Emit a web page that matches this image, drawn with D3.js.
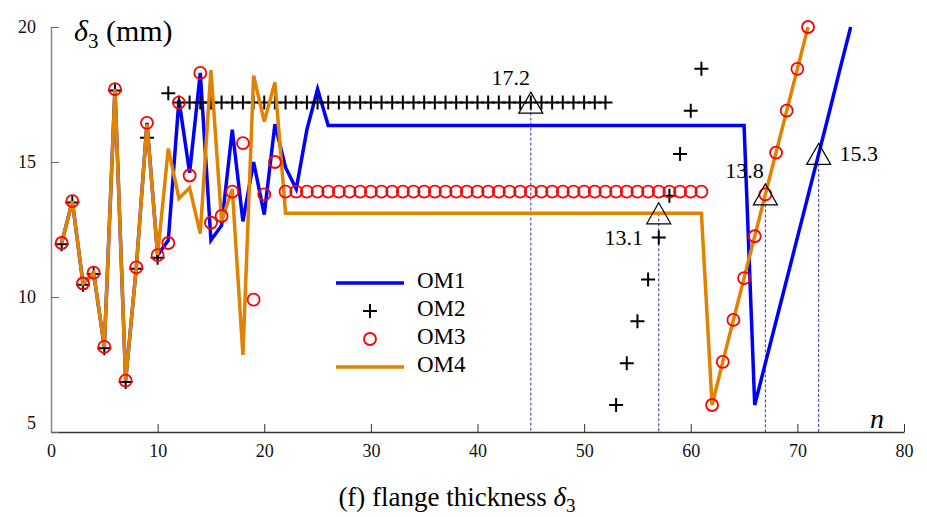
<!DOCTYPE html>
<html>
<head>
<meta charset="utf-8">
<script src="https://cdn.jsdelivr.net/npm/d3@7"></script>
<style>
  body { margin: 0; background: #fff; }
  svg, svg text { font-family: "Liberation Serif", "Times New Roman", serif; }
</style>
</head>
<body>
<svg id="chart" width="927" height="517"></svg>
<script>
// x ticks / y ticks
const xTicks = [0, 10, 20, 30, 40, 50, 60, 70, 80];
const yTicks = [5, 10, 15, 20];

// OM1 line vertices [n, value]
const om1 = [
  [1, 12.0], [2, 13.55], [3, 10.5], [4, 10.9], [5, 8.15], [6, 17.7], [7, 6.9], [8, 11.1],
  [9, 16.45], [10, 11.55], [11, 12.1], [12, 17.3], [13, 14.6], [14, 18.3], [15, 12.1],
  [16, 12.65], [17, 16.2], [18, 12.8], [19, 15.0], [20, 13.05], [21, 16.4], [22, 14.8],
  [23, 14.0], [24, 16.2], [25, 17.7], [26, 16.35], [65, 16.35], [66, 6.0], [67, 7.55],
  [68, 9.1], [69, 10.65], [70, 12.2], [71, 13.75], [72, 15.3], [73, 16.85], [74, 18.45], [75, 20.0]
];

// OM2 markers, n = 1, 2, 3, ...
const om2 = [
  11.95, 13.5, 10.45, 10.85, 8.1, 17.65, 6.85, 11.05, 15.9, 11.45,
  17.55, 17.2, 17.2, 17.2, 17.2, 17.2, 17.2, 17.2, 17.2, 17.2,
  17.2, 17.2, 17.2, 17.2, 17.2, 17.2, 17.2, 17.2, 17.2, 17.2,
  17.2, 17.2, 17.2, 17.2, 17.2, 17.2, 17.2, 17.2, 17.2, 17.2,
  17.2, 17.2, 17.2, 17.2, 17.2, 17.2, 17.2, 17.2, 17.2, 17.2,
  17.2, 17.2, 6.0, 7.55, 9.1, 10.65, 12.2, 13.75, 15.3, 16.9,
  18.45
];

// OM3 markers, n = 1, 2, 3, ...
const om3 = [
  12.0, 13.55, 10.5, 10.9, 8.15, 17.7, 6.9, 11.1, 16.45, 11.55,
  12.0, 17.2, 14.5, 18.3, 12.75, 13.0, 13.9, 15.7, 9.9, 13.8,
  15.0, 13.9, 13.9, 13.9, 13.9, 13.9, 13.9, 13.9, 13.9, 13.9,
  13.9, 13.9, 13.9, 13.9, 13.9, 13.9, 13.9, 13.9, 13.9, 13.9,
  13.9, 13.9, 13.9, 13.9, 13.9, 13.9, 13.9, 13.9, 13.9, 13.9,
  13.9, 13.9, 13.9, 13.9, 13.9, 13.9, 13.9, 13.9, 13.9, 13.9,
  13.9, 6.0, 7.6, 9.15, 10.7, 12.25, 13.8, 15.35, 16.9, 18.45,
  20.0
];

// OM4 line vertices [n, value]
const om4 = [
  [1, 12.0], [2, 13.55], [3, 10.5], [4, 10.9], [5, 8.15], [6, 17.7], [7, 6.9], [8, 11.1],
  [9, 16.4], [10, 11.55], [11, 15.5], [12, 13.65], [13, 14.05], [14, 12.35], [15, 18.4],
  [16, 12.8], [17, 14.0], [18, 7.85], [19, 18.2], [20, 16.5], [21, 17.95], [22, 13.1],
  [61, 13.1], [62, 6.0], [63, 7.6], [64, 9.15], [65, 10.7], [66, 12.25], [67, 13.8],
  [68, 15.35], [69, 16.9], [70, 18.45], [71, 20.0]
];

// marked points
const markN = [45, 57, 67, 72];
const markV = [17.2, 13.1, 13.8, 15.3];
const markLabels = ["17.2", "13.1", "13.8", "15.3"];

const svg = d3.select("#chart");
const x = d3.scaleLinear().domain([0, 80]).range([51, 904]);
const y = d3.scaleLinear().domain([5, 20]).range([432, 27]);

// axes
const xAxis = svg.append("g")
  .attr("transform", "translate(0," + y(5) + ")")
  .call(d3.axisBottom(x).tickValues(xTicks).tickSizeInner(-8).tickSizeOuter(0).tickPadding(12))
  .attr("font-family", null).attr("font-size", 18);
xAxis.select(".domain").attr("stroke", "#333").attr("stroke-width", 1.5);
xAxis.selectAll(".tick line").attr("stroke", "#333").attr("stroke-width", 1);
xAxis.selectAll(".tick text").attr("fill", "#111");

const yAxis = svg.append("g")
  .attr("transform", "translate(" + x(0) + ",0)")
  .call(d3.axisLeft(y).tickValues(yTicks).tickSizeInner(-8).tickSizeOuter(0).tickPadding(15))
  .attr("font-family", null).attr("font-size", 18);
yAxis.select(".domain").attr("stroke", "#888").attr("stroke-width", 1.5);
yAxis.selectAll(".tick line").attr("stroke", "#666").attr("stroke-width", 1);
yAxis.selectAll(".tick text").attr("fill", "#111")
  .attr("dy", d => d === 5 ? "-0.2em" : "0.32em");

// dashed guides (drawn under series)
const marks = markN.map((n, i) => ({ n: n, v: markV[i], label: markLabels[i] }));
svg.append("g").selectAll("line").data(marks).join("line")
  .attr("x1", d => x(d.n)).attr("x2", d => x(d.n))
  .attr("y1", d => y(d.v)).attr("y2", y(5))
  .attr("stroke", "#2233aa").attr("stroke-width", 1).attr("stroke-dasharray", "3,2");

// series
const line = d3.line().x(d => x(d[0])).y(d => y(d[1]));

svg.append("path").datum(om1).attr("d", line)
  .attr("fill", "none").attr("stroke", "#0000ff").attr("stroke-width", 3.5).attr("stroke-linejoin", "miter");

svg.append("g").selectAll("path").data(om2).join("path")
  .attr("d", "M-7,0H7M0,-7V7")
  .attr("transform", (d, i) => "translate(" + x(i + 1) + "," + y(d) + ")")
  .attr("stroke", "#000").attr("stroke-width", 2).attr("fill", "none");

svg.append("path").datum(om4).attr("d", line)
  .attr("fill", "none").attr("stroke", "#df8300").attr("stroke-width", 3.5).attr("stroke-linejoin", "miter");

svg.append("g").selectAll("circle").data(om3).join("circle")
  .attr("cx", (d, i) => x(i + 1)).attr("cy", d => y(d)).attr("r", 6)
  .attr("fill", "none").attr("stroke", "#ff0000").attr("stroke-width", 1.8);

// triangles and labels
const tri = svg.append("g");
tri.selectAll("path").data(marks).join("path")
  .attr("d", "M0,-10.5L12,10.5L-12,10.5Z")
  .attr("transform", d => "translate(" + x(d.n) + "," + y(d.v) + ")")
  .attr("fill", "none").attr("stroke", "#000").attr("stroke-width", 1.2);
const labelOff = [[-20, -23], [-35, 27], [-21, -21], [40, 2]];
tri.selectAll("text").data(marks).join("text")
  .attr("x", (d, i) => x(d.n) + labelOff[i][0])
  .attr("y", (d, i) => y(d.v) + labelOff[i][1])
  .attr("text-anchor", "middle").attr("dominant-baseline", "middle")
  .attr("font-size", 22).attr("fill", "#000")
  .text(d => d.label);

// legend
const legend = svg.append("g");
const legY = [283, 311, 339, 367];
legend.append("line").attr("x1", 336).attr("x2", 404).attr("y1", legY[0]).attr("y2", legY[0])
  .attr("stroke", "#0000ff").attr("stroke-width", 3.5);
legend.append("path").attr("d", "M-7,0H7M0,-7V7")
  .attr("transform", "translate(370," + legY[1] + ")")
  .attr("stroke", "#000").attr("stroke-width", 2);
legend.append("circle").attr("cx", 370).attr("cy", legY[2]).attr("r", 6)
  .attr("fill", "none").attr("stroke", "#ff0000").attr("stroke-width", 1.8);
legend.append("line").attr("x1", 336).attr("x2", 404).attr("y1", legY[3]).attr("y2", legY[3])
  .attr("stroke", "#df8300").attr("stroke-width", 3.5);
legend.selectAll("text").data(["OM1", "OM2", "OM3", "OM4"]).join("text")
  .attr("x", 417).attr("y", (d, i) => legY[i])
  .attr("dominant-baseline", "middle").attr("font-size", 23).attr("fill", "#000")
  .text(d => d);

// axis titles
const yt = svg.append("text").attr("x", 74).attr("y", 41).attr("font-size", 30).attr("fill", "#000");
yt.append("tspan").attr("font-style", "italic").text("δ");
yt.append("tspan").attr("font-size", 21).attr("dy", 7).text("3");
yt.append("tspan").attr("dy", -7).text(" (mm)");

svg.append("text").attr("x", 877).attr("y", 428).attr("text-anchor", "middle")
  .attr("font-size", 28).attr("font-style", "italic").text("n");

const bt = svg.append("text").attr("x", 457).attr("y", 506).attr("text-anchor", "middle")
  .attr("font-size", 27).attr("fill", "#000");
bt.append("tspan").text("(f) flange thickness ");
bt.append("tspan").attr("font-style", "italic").text("δ");
bt.append("tspan").attr("font-size", 19).attr("dy", 6).text("3");
</script>
</body>
</html>
